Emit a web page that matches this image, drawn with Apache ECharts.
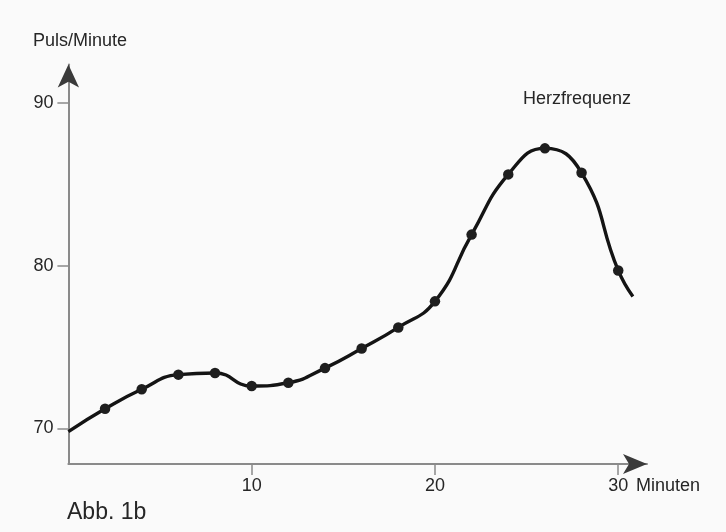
<!DOCTYPE html>
<html>
<head>
<meta charset="utf-8">
<script src="https://cdn.jsdelivr.net/npm/echarts@6/dist/echarts.min.js"></script>
<style>
  html, body { margin: 0; padding: 0; background: #fafafa; }
  #chart { width: 726px; height: 532px; }
</style>
</head>
<body>
<div id="chart"></div>
<script>
// Heart rate over time (minutes)
const minutes = [0, 2, 4, 6, 8, 10, 12, 14, 16, 18, 20, 22, 24, 26, 28, 30, 30.8];
const pulse   = [69.8, 71.2, 72.4, 73.3, 73.4, 72.6, 72.8, 73.7, 74.9, 76.2, 77.8, 81.9, 85.6, 87.2, 85.7, 79.7, 78.1];
// measured points carry a dot; the curve's open ends do not
const measured = [false, true, true, true, true, true, true, true, true, true, true, true, true, true, true, true, false];

const xTicks = [10, 20, 30];
const yTicks = [70, 80, 90];

const xRange = [0, 31.57];
const yRange = [67.81, 92.35];

const FONT = '"Liberation Sans", Arial, Helvetica, sans-serif';
const TEXT = '#262626';
const AXIS = '#8a8a8a';
const ARROW = '#3a3a3a';

const seriesData = minutes.map((m, i) => ({
  value: [m, pulse[i]],
  symbol: measured[i] ? 'circle' : 'none'
}));

const chart = echarts.init(document.getElementById('chart'), null, { renderer: 'canvas' });

chart.setOption({
  animation: false,
  backgroundColor: '#fafafa',
  grid: { left: 68.4, right: 79, top: 64.5, bottom: 68, containLabel: false },
  xAxis: [
    {
      type: 'value', position: 'bottom', min: xRange[0], max: xRange[1],
      axisLine: { onZero: false, lineStyle: { color: AXIS, width: 2 } },
      axisTick: { show: true, length: 11, customValues: xTicks, lineStyle: { color: AXIS, width: 1.5 } },
      axisLabel: { customValues: xTicks, margin: 13, fontSize: 18, color: TEXT, fontFamily: FONT },
      splitLine: { show: false }
    },
    {
      type: 'value', position: 'bottom', min: xRange[0], max: xRange[1],
      axisLine: { onZero: false, symbol: ['none', 'arrow'], symbolSize: [15, 24], lineStyle: { color: ARROW, width: 0 } },
      axisTick: { show: false }, axisLabel: { show: false }, splitLine: { show: false }
    }
  ],
  yAxis: [
    {
      type: 'value', position: 'left', min: yRange[0], max: yRange[1],
      axisLine: { show: true, onZero: false, lineStyle: { color: AXIS, width: 2 } },
      axisTick: { show: true, length: 11, customValues: yTicks, lineStyle: { color: AXIS, width: 1.5 } },
      axisLabel: { customValues: yTicks, margin: 15, fontSize: 18, color: TEXT, fontFamily: FONT },
      splitLine: { show: false }
    },
    {
      type: 'value', position: 'left', min: yRange[0], max: yRange[1],
      axisLine: { show: true, onZero: false, symbol: ['none', 'arrow'], symbolSize: [16, 23], lineStyle: { color: ARROW, width: 0 } },
      axisTick: { show: false }, axisLabel: { show: false }, splitLine: { show: false }
    }
  ],
  series: [{
    type: 'line',
    xAxisIndex: 0, yAxisIndex: 0,
    data: seriesData,
    smooth: 0.5,
    showAllSymbol: true,
    symbolSize: 10.5,
    itemStyle: { color: '#1e1e1e' },
    lineStyle: { color: '#141414', width: 3.4 },
    z: 5
  }],
  graphic: [
    { type: 'text', left: 33, top: 32, style: { text: 'Puls/Minute', fontSize: 18, fill: TEXT, fontFamily: FONT } },
    { type: 'text', left: 523, top: 90, style: { text: 'Herzfrequenz', fontSize: 18, fill: TEXT, fontFamily: FONT } },
    { type: 'text', left: 636, top: 477, style: { text: 'Minuten', fontSize: 18, fill: TEXT, fontFamily: FONT } },
    { type: 'text', left: 67, top: 501, style: { text: 'Abb. 1b', fontSize: 23, fill: TEXT, fontFamily: FONT } }
  ]
});
</script>
</body>
</html>
